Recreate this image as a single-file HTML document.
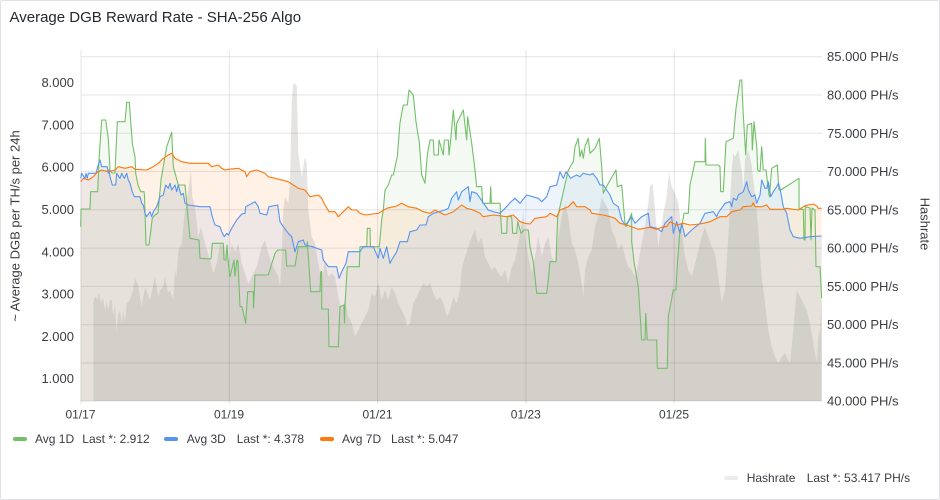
<!DOCTYPE html>
<html><head><meta charset="utf-8"><style>
html,body{margin:0;padding:0;background:#fff;}
body{width:940px;height:500px;overflow:hidden;font-family:"Liberation Sans",Arial,sans-serif;}
.panel{position:absolute;left:0;top:0;width:938px;height:498px;border:1px solid #e2e2e4;border-radius:2px;background:#fff;}
svg{position:absolute;left:0;top:0;}
</style></head><body>
<div class="panel"></div>
<svg width="940" height="500" viewBox="0 0 940 500" xmlns="http://www.w3.org/2000/svg" font-family="Liberation Sans, Arial, sans-serif">
<text x="9.5" y="22" font-size="15" fill="#24292e">Average DGB Reward Rate - SHA-256 Algo</text>

<!-- fills -->
<polygon fill="#73BF69" fill-opacity="0.08" points="80.7,401 80.7,226.7 81,209 90,209 90.7,191.7 97.7,191.7 99,160 101.7,120 105.7,120 108.3,138.3 110,170 112,173 115,173 117.3,121.7 125,121.7 126.7,102.3 129.3,102.3 132.3,143.3 135,156.7 135.7,173.3 138,185 140.7,191.7 144,191.7 144.5,196 146,245 149,245 152.3,218.3 155,215 158,213 161,180 166.7,146.7 171.7,132.3 173.3,166.7 178.3,185 185,185 190,238.3 199,240 200,258.3 211,259 212.3,243.3 223.3,243.3 224,260 226,260 227,245 228,260 230,276.7 234,260 235,276 237,260 238,262 240,306.7 242,306.7 245.7,323.3 247.7,291.7 253.3,291.7 253.5,308 255,275 268.3,275 275,253.3 277.7,250 285.7,250 286.7,266 295,266 298.3,246.7 306.7,246.7 307.3,241.7 310.7,291.7 320,291.7 320.7,271.7 321.7,271.7 321.7,309 328.3,309 329,346.7 338.3,346.7 340,306.7 344,305 344.5,323 345,305 347.3,266.7 359.3,266.7 360,246.7 366.7,246.7 367.3,228.3 370,228.3 370.5,246.7 379.3,246.7 381.7,220 383.3,210 385,190 388.3,185 391.7,175 393.3,175 397.3,156.7 400,122.7 403.3,105 407.3,105 409,90 413.3,95 416,121.7 418.3,136.7 419.3,141.7 421.7,175 425,183.3 427.3,155 430,140 433.3,140 434,155 438.3,155 439,140 443.3,155 444.3,140 448.3,140 449,155 450.7,140 453.3,110 456,140 456.7,123.3 463.3,110 466.7,140 467.7,116.7 471.7,143.3 475,170 476.7,186.7 481.7,186.7 482.7,203.3 490,203.3 490.7,186.7 491.3,203.3 500,203.3 501.7,233.3 506.7,233.3 507.3,216.7 511.7,216.7 512.7,233.3 516.7,233.3 517.7,221.7 521,233.3 524,230 528.3,230 530,246.7 533.3,261.7 536.7,293.3 546.7,293.3 548.3,280 550,261.7 556,261.7 557.7,216.7 566,180 568.3,170 573.3,161.7 575,146.7 578.3,138.3 580,156.7 581.7,150 583.3,158.3 585,146.7 588.3,138.3 590,153.3 595,148.3 599.3,138.3 601.7,166.7 603.3,193.3 608.3,183.3 616,170 617.3,186.7 621.7,185 622.7,196.7 625,223.3 626,226.7 631.7,213.3 631.7,241.7 634,261.7 638.3,286.7 641.7,340 645,340 645.7,313.3 647.3,340 656.7,340 657.3,368.3 667.3,368.3 668.3,316.7 673.3,290 676,290 677.3,265 680,230 681.7,226.7 684,213.3 688.3,213.3 690,185 695,161.7 705,161.7 705.3,138.3 706,165 718.3,165 720,166.7 720.7,191.7 723.3,191.7 726,141.7 733.3,138.3 736,108.3 740,80 741.7,80 743.3,115 745.7,155 747.3,125 751.7,123.3 752.3,150 754,121.7 756.7,146.7 757.7,170 760,171.7 761.7,146.7 763.3,170 766,170 769.3,196.7 771.7,168.3 777.3,165 779,190 780.7,190 799,178.3 799,209.3 803.3,209.3 804,240 805,240 805.3,206.7 810,208 811,240 812,208 815,210 816,266.7 820,266.7 821.7,298.3 821.7,401"/>
<polygon fill="#5794F2" fill-opacity="0.1" points="80.7,401 80.7,178.3 81.7,173.3 85,178.3 86,173.3 87.3,178.3 88.3,173.3 96,173.3 97.7,166.7 100,160 101.7,166.7 107.3,166.7 108.3,173.3 109,170 110,176.7 112.3,185 115.7,185 116.7,173.3 120,178.3 121.7,173.3 124.3,178.3 126.7,173.3 128.3,180 130,183.3 132.3,191.7 134.3,196.7 140,196.7 141.7,203.3 143.3,205 145,213.3 146.7,216.7 150,211.7 151.7,216.7 153.3,211.7 156.7,206.7 160,196.7 163.3,195 165.7,185 168.3,188.3 170,183.3 171.7,190 175,185 176.7,191.7 178.3,185 181,195 183.3,193.3 185,203.3 188.3,205 200,206.7 210,206.7 212.3,216.7 215,225 220,226.7 221.7,231.7 224.3,236.7 226.7,233.3 228.3,235 231.7,228.3 236.7,220 241.7,214 245,213.3 245.7,206.7 255,201.7 258.3,206.7 260,213.3 266.7,215 269,206.7 277.7,205 280,221.7 283.3,226.7 288.3,233.3 291.7,236.7 295,251.7 298.3,241.7 303.3,240 305,245 312.3,246.7 321.7,250 323.3,260 328.3,266.7 336.7,266.7 339,278.3 341.7,271.7 346,263.3 348.3,251.7 360,251.7 363.3,246.7 373.3,246.7 378.3,258.3 380,248.3 383.3,258.3 386.7,246.7 390,263.3 391.7,260 396.7,251.7 400,241.7 407.3,241.7 410,231.7 416.7,230 420,225 426,225 428.3,216.7 433.3,213.3 445,210 448.3,208.3 451.7,198.3 456.7,191.7 458.3,200 461.7,191.7 468.3,186.7 470,201.7 471.7,191.7 476.7,193.3 488.3,210 493.3,211.7 500,213.3 506.7,206.7 510,202.7 515,198.3 520,203.3 526.7,195 538.3,198.3 541.7,201.7 546.7,196.7 550,186.7 556.7,185 560,171.7 563.3,178.3 566,171.7 570.7,178.3 573.3,176.7 576.7,175 580,176.7 583.3,173.3 590,175 592.7,173.3 596.7,178.3 600,185 603.3,185 606.7,190 610,195 613.3,203.3 618.3,206.7 621.7,220 625,225 628.3,221.7 631.7,216.7 635,223.3 641.7,216.7 648.3,213.3 650,226.7 656.7,228.3 661.7,231.7 665,223.3 668.3,220 671.7,216.7 673.3,233.3 676.7,221.7 680,233.3 681.7,223.3 685,236.7 691.7,230 700,223.3 705,213.3 713.3,211.7 716.7,216.7 718.3,212.7 725,203.3 730,201.7 731.7,206.7 733.3,198.3 736.7,200 738.3,195 743.3,191.7 746.7,181.7 748.3,190 750,193.3 751.7,196.7 755,195 756.7,203.3 760,195 761.7,180 765,188.3 766.7,188.3 768.3,181.7 770.7,196.7 773.3,191.7 776.7,186.7 778.3,183.3 780,188.3 783.3,206.7 786.7,213.3 790,230 793.3,236.7 800,238.3 810,236.7 821.7,236 821.7,401"/>
<polygon fill="#FF780A" fill-opacity="0.1" points="80.7,401 80.7,181.7 83.3,178.3 88.3,180 93.3,176.7 97.7,171.7 101.7,170 108.3,171.7 115,170 118.3,166.7 125,168.3 131.7,166.7 135,169.3 146.7,170 153.3,166.7 158.3,163.3 163.3,158.3 168.3,155 171.7,153.3 175,158.3 181.7,161.7 190,163.3 208.3,163.3 211.7,166.7 218.3,165 221.7,168.3 225,170 228.3,169.3 238.3,168.3 245,171.7 246.7,176.7 250,171.7 256.7,170 265,173.3 268.3,176.7 275,178.3 288.3,181.7 293.3,185 298.3,188.3 305,190 310,196.7 318.3,195 321.7,198.3 325,205 329,211.7 335,211.7 338.3,216.7 343.3,211.7 348.3,206.7 351.7,210 356.7,210 360,213.3 365,215 378.3,213.3 386.7,208.3 396.7,206 401.7,203.3 408.3,206.7 416.7,208.3 423.3,211.7 430,213.3 435,210 445,215 453.3,211.7 461.7,205 466.7,208.3 473.3,210 480,213.3 483.3,216.7 493.3,215 506.7,216.7 513.3,215 516.7,218.3 520,221.7 525,223.3 530,224 535,218.3 546.7,216.7 550,213.3 556.7,216.7 560,210 568.3,206.7 573.3,201.7 576.7,206.7 585,206.7 590,210 591.7,213.3 603.3,215 610,216.7 615,218.3 620,223.3 626.7,225 638.3,229.3 650,227.3 656.7,229.3 663.3,226.7 666.7,226.7 670,221.7 676.7,225 683.3,223.3 690,225 700,224 710,221.7 713.3,220 720,216.7 726.7,216.7 731.7,211.7 740,210 743.3,206.7 751.7,206 753.3,202.7 755,206.7 761.7,206.7 766.7,205 770,209.3 783.3,209.3 786.7,208.3 798.3,210 805,205.7 813.3,204 816.7,206 818.3,208.3 821.7,208.3 821.7,401"/>
<!-- hashrate -->
<polygon fill="#a9a6a3" fill-opacity="0.3" points="93.3,401 93.3,303.3 95,296 97,300 99,292 101,303 103,298 105,310 107,302 108.3,310 110,300 111.7,300 113,315 115,305 116.7,333.3 118,315 120,310 121.7,323 123.3,310 125,323.3 126.7,303.3 130,300 133,290 135,278.3 138,285 141.7,306.7 145,286.7 148,295 150,300 155,276.7 158.3,296.7 160,290 163.3,286.7 165,276.7 168,293 170,290 173.3,300 175,270 176.7,276.7 178.3,250 181.7,243.3 185,210 188.3,190 191,170 192.3,196.7 195,206.7 198.3,236.7 201,226.7 205,243.3 210,260 213.3,273.3 216.7,263.3 220,243.3 225,250 228.3,263.3 231.7,243.3 235,251.7 238.3,243.3 241.7,263.3 245,273.3 248.3,283.3 251.7,276.7 256.7,266.7 261.7,246.7 265,240 268.3,253.3 271.7,263.3 275,270 278.3,276.7 280,286.7 281.7,256.7 283.3,210 285,196.7 288.3,203.3 290,183.3 291.7,103.3 293.3,83.3 296.7,85 298.3,153.3 301.7,176.7 305,156.7 306.7,163.3 308.3,210 311.7,236.7 315,243.3 318.3,263.3 321.7,283.3 325,260 328.3,276.7 331.7,273.3 335,276.7 338.3,296.7 341.7,310 345,300 348.3,316.7 351.7,323.3 355,336.7 358.3,330 361.7,323.3 365,316.7 368.3,310 371.7,293.3 375,296.7 378.3,283.3 381.7,300 385,290 388.3,300 391.7,286.7 395,293.3 398.3,303.3 401.7,310 405,316.7 407.3,326.7 410,323.3 413.3,303.3 416.7,296.7 420,290 423.3,283.3 426.7,286.7 430,283.3 433.3,293.3 436.7,300 440,296.7 443.3,303.3 446.7,316.7 450,310 453.3,296.7 456.7,303.3 460,290 461.7,270 465,256.7 468.3,246.7 471.7,236.7 475,230 478.3,243.3 481.7,236.7 485,256.7 488.3,263.3 491.7,270 495,266.7 498.3,273.3 501.7,276.7 505,270 508.3,283.3 511.7,266.7 515,260 518.3,243.3 521.7,223.3 523.3,210 525,236.7 528.3,256.7 531.7,273.3 535,256.7 538.3,236.7 541.7,256.7 545,243.3 548.3,236.7 551.7,256.7 555,263.3 558.3,236.7 561.7,216.7 565,203.3 568.3,216.7 571.7,243.3 575,250 578.3,263.3 581.7,283.3 583.3,296.7 585,270 588.3,256.7 591.7,250 595,226.7 598.3,216.7 601.7,196.7 605,203.3 608.3,210 611.7,230 615,236.7 618.3,250 621.7,243.3 625,256.7 628.3,266.7 631.7,270 635,276.7 638.3,263.3 641.7,243.3 645,226.7 648.3,203.3 650,186.7 652.7,183.3 655,210 658.3,246.7 660,236.7 663.3,213.3 666.7,196.7 669,173.3 671.7,186.7 675,193.3 678.3,203.3 681.7,230 685,256.7 688.3,270 691.7,276.7 695,263.3 698.3,250 701.7,236.7 705,226.7 708.3,236.7 711.7,246.7 715,253.3 718.3,276.7 721.7,303.3 725,290 728.3,236.7 731.7,170 733.3,153 735,156.7 738.3,150 741.7,170 743.3,190 745,160 748.3,150 751.7,165 755,195 758.3,230 761.7,276.7 765,303.3 768.3,330 771.7,346.7 775,356.7 778.3,363.3 781.7,356.7 785,353.3 790,363.3 793.3,330 796.7,290 800,296.7 803.3,303.3 806.7,310 810,323.3 813.3,343.3 816.7,363.3 818.3,336.7 820,330 821.7,298.3 821.7,401"/>

<!-- grid -->
<g stroke="#000" stroke-opacity="0.1" stroke-width="1">
<line x1="81" y1="56.7" x2="822" y2="56.7"/>
<line x1="81" y1="95" x2="822" y2="95"/>
<line x1="81" y1="133.3" x2="822" y2="133.3"/>
<line x1="81" y1="171.5" x2="822" y2="171.5"/>
<line x1="81" y1="209.8" x2="822" y2="209.8"/>
<line x1="81" y1="248.1" x2="822" y2="248.1"/>
<line x1="81" y1="286.4" x2="822" y2="286.4"/>
<line x1="81" y1="324.7" x2="822" y2="324.7"/>
<line x1="81" y1="363" x2="822" y2="363"/>
<line x1="81" y1="401" x2="822" y2="401"/>
<line x1="81" y1="50" x2="81" y2="404"/>
<line x1="229.3" y1="50" x2="229.3" y2="404"/>
<line x1="377.6" y1="50" x2="377.6" y2="404"/>
<line x1="525.9" y1="50" x2="525.9" y2="404"/>
<line x1="674.2" y1="50" x2="674.2" y2="404"/>
</g>

<!-- lines -->
<g fill="none" stroke-width="1.1" stroke-linejoin="round">
<polyline stroke="#73BF69" points="80.7,226.7 81,209 90,209 90.7,191.7 97.7,191.7 99,160 101.7,120 105.7,120 108.3,138.3 110,170 112,173 115,173 117.3,121.7 125,121.7 126.7,102.3 129.3,102.3 132.3,143.3 135,156.7 135.7,173.3 138,185 140.7,191.7 144,191.7 144.5,196 146,245 149,245 152.3,218.3 155,215 158,213 161,180 166.7,146.7 171.7,132.3 173.3,166.7 178.3,185 185,185 190,238.3 199,240 200,258.3 211,259 212.3,243.3 223.3,243.3 224,260 226,260 227,245 228,260 230,276.7 234,260 235,276 237,260 238,262 240,306.7 242,306.7 245.7,323.3 247.7,291.7 253.3,291.7 253.5,308 255,275 268.3,275 275,253.3 277.7,250 285.7,250 286.7,266 295,266 298.3,246.7 306.7,246.7 307.3,241.7 310.7,291.7 320,291.7 320.7,271.7 321.7,271.7 321.7,309 328.3,309 329,346.7 338.3,346.7 340,306.7 344,305 344.5,323 345,305 347.3,266.7 359.3,266.7 360,246.7 366.7,246.7 367.3,228.3 370,228.3 370.5,246.7 379.3,246.7 381.7,220 383.3,210 385,190 388.3,185 391.7,175 393.3,175 397.3,156.7 400,122.7 403.3,105 407.3,105 409,90 413.3,95 416,121.7 418.3,136.7 419.3,141.7 421.7,175 425,183.3 427.3,155 430,140 433.3,140 434,155 438.3,155 439,140 443.3,155 444.3,140 448.3,140 449,155 450.7,140 453.3,110 456,140 456.7,123.3 463.3,110 466.7,140 467.7,116.7 471.7,143.3 475,170 476.7,186.7 481.7,186.7 482.7,203.3 490,203.3 490.7,186.7 491.3,203.3 500,203.3 501.7,233.3 506.7,233.3 507.3,216.7 511.7,216.7 512.7,233.3 516.7,233.3 517.7,221.7 521,233.3 524,230 528.3,230 530,246.7 533.3,261.7 536.7,293.3 546.7,293.3 548.3,280 550,261.7 556,261.7 557.7,216.7 566,180 568.3,170 573.3,161.7 575,146.7 578.3,138.3 580,156.7 581.7,150 583.3,158.3 585,146.7 588.3,138.3 590,153.3 595,148.3 599.3,138.3 601.7,166.7 603.3,193.3 608.3,183.3 616,170 617.3,186.7 621.7,185 622.7,196.7 625,223.3 626,226.7 631.7,213.3 631.7,241.7 634,261.7 638.3,286.7 641.7,340 645,340 645.7,313.3 647.3,340 656.7,340 657.3,368.3 667.3,368.3 668.3,316.7 673.3,290 676,290 677.3,265 680,230 681.7,226.7 684,213.3 688.3,213.3 690,185 695,161.7 705,161.7 705.3,138.3 706,165 718.3,165 720,166.7 720.7,191.7 723.3,191.7 726,141.7 733.3,138.3 736,108.3 740,80 741.7,80 743.3,115 745.7,155 747.3,125 751.7,123.3 752.3,150 754,121.7 756.7,146.7 757.7,170 760,171.7 761.7,146.7 763.3,170 766,170 769.3,196.7 771.7,168.3 777.3,165 779,190 780.7,190 799,178.3 799,209.3 803.3,209.3 804,240 805,240 805.3,206.7 810,208 811,240 812,208 815,210 816,266.7 820,266.7 821.7,298.3"/>
<polyline stroke="#5794F2" points="80.7,178.3 81.7,173.3 85,178.3 86,173.3 87.3,178.3 88.3,173.3 96,173.3 97.7,166.7 100,160 101.7,166.7 107.3,166.7 108.3,173.3 109,170 110,176.7 112.3,185 115.7,185 116.7,173.3 120,178.3 121.7,173.3 124.3,178.3 126.7,173.3 128.3,180 130,183.3 132.3,191.7 134.3,196.7 140,196.7 141.7,203.3 143.3,205 145,213.3 146.7,216.7 150,211.7 151.7,216.7 153.3,211.7 156.7,206.7 160,196.7 163.3,195 165.7,185 168.3,188.3 170,183.3 171.7,190 175,185 176.7,191.7 178.3,185 181,195 183.3,193.3 185,203.3 188.3,205 200,206.7 210,206.7 212.3,216.7 215,225 220,226.7 221.7,231.7 224.3,236.7 226.7,233.3 228.3,235 231.7,228.3 236.7,220 241.7,214 245,213.3 245.7,206.7 255,201.7 258.3,206.7 260,213.3 266.7,215 269,206.7 277.7,205 280,221.7 283.3,226.7 288.3,233.3 291.7,236.7 295,251.7 298.3,241.7 303.3,240 305,245 312.3,246.7 321.7,250 323.3,260 328.3,266.7 336.7,266.7 339,278.3 341.7,271.7 346,263.3 348.3,251.7 360,251.7 363.3,246.7 373.3,246.7 378.3,258.3 380,248.3 383.3,258.3 386.7,246.7 390,263.3 391.7,260 396.7,251.7 400,241.7 407.3,241.7 410,231.7 416.7,230 420,225 426,225 428.3,216.7 433.3,213.3 445,210 448.3,208.3 451.7,198.3 456.7,191.7 458.3,200 461.7,191.7 468.3,186.7 470,201.7 471.7,191.7 476.7,193.3 488.3,210 493.3,211.7 500,213.3 506.7,206.7 510,202.7 515,198.3 520,203.3 526.7,195 538.3,198.3 541.7,201.7 546.7,196.7 550,186.7 556.7,185 560,171.7 563.3,178.3 566,171.7 570.7,178.3 573.3,176.7 576.7,175 580,176.7 583.3,173.3 590,175 592.7,173.3 596.7,178.3 600,185 603.3,185 606.7,190 610,195 613.3,203.3 618.3,206.7 621.7,220 625,225 628.3,221.7 631.7,216.7 635,223.3 641.7,216.7 648.3,213.3 650,226.7 656.7,228.3 661.7,231.7 665,223.3 668.3,220 671.7,216.7 673.3,233.3 676.7,221.7 680,233.3 681.7,223.3 685,236.7 691.7,230 700,223.3 705,213.3 713.3,211.7 716.7,216.7 718.3,212.7 725,203.3 730,201.7 731.7,206.7 733.3,198.3 736.7,200 738.3,195 743.3,191.7 746.7,181.7 748.3,190 750,193.3 751.7,196.7 755,195 756.7,203.3 760,195 761.7,180 765,188.3 766.7,188.3 768.3,181.7 770.7,196.7 773.3,191.7 776.7,186.7 778.3,183.3 780,188.3 783.3,206.7 786.7,213.3 790,230 793.3,236.7 800,238.3 810,236.7 821.7,236"/>
<polyline stroke="#FF780A" points="80.7,181.7 83.3,178.3 88.3,180 93.3,176.7 97.7,171.7 101.7,170 108.3,171.7 115,170 118.3,166.7 125,168.3 131.7,166.7 135,169.3 146.7,170 153.3,166.7 158.3,163.3 163.3,158.3 168.3,155 171.7,153.3 175,158.3 181.7,161.7 190,163.3 208.3,163.3 211.7,166.7 218.3,165 221.7,168.3 225,170 228.3,169.3 238.3,168.3 245,171.7 246.7,176.7 250,171.7 256.7,170 265,173.3 268.3,176.7 275,178.3 288.3,181.7 293.3,185 298.3,188.3 305,190 310,196.7 318.3,195 321.7,198.3 325,205 329,211.7 335,211.7 338.3,216.7 343.3,211.7 348.3,206.7 351.7,210 356.7,210 360,213.3 365,215 378.3,213.3 386.7,208.3 396.7,206 401.7,203.3 408.3,206.7 416.7,208.3 423.3,211.7 430,213.3 435,210 445,215 453.3,211.7 461.7,205 466.7,208.3 473.3,210 480,213.3 483.3,216.7 493.3,215 506.7,216.7 513.3,215 516.7,218.3 520,221.7 525,223.3 530,224 535,218.3 546.7,216.7 550,213.3 556.7,216.7 560,210 568.3,206.7 573.3,201.7 576.7,206.7 585,206.7 590,210 591.7,213.3 603.3,215 610,216.7 615,218.3 620,223.3 626.7,225 638.3,229.3 650,227.3 656.7,229.3 663.3,226.7 666.7,226.7 670,221.7 676.7,225 683.3,223.3 690,225 700,224 710,221.7 713.3,220 720,216.7 726.7,216.7 731.7,211.7 740,210 743.3,206.7 751.7,206 753.3,202.7 755,206.7 761.7,206.7 766.7,205 770,209.3 783.3,209.3 786.7,208.3 798.3,210 805,205.7 813.3,204 816.7,206 818.3,208.3 821.7,208.3"/>
</g>

<!-- left axis -->
<g font-size="13" fill="#3a3d42" text-anchor="end">
<text x="74" y="87.2">8.000</text>
<text x="74" y="129.5">7.000</text>
<text x="74" y="171.7">6.000</text>
<text x="74" y="214">5.000</text>
<text x="74" y="256.3">4.000</text>
<text x="74" y="298.6">3.000</text>
<text x="74" y="340.9">2.000</text>
<text x="74" y="383.2">1.000</text>
</g>
<text transform="translate(19.5,226) rotate(-90)" font-size="13" fill="#3a3d42" text-anchor="middle">~ Average DGB per TH/s per 24h</text>

<!-- right axis -->
<g font-size="13" fill="#3a3d42">
<text x="827" y="61.2">85.000 PH/s</text>
<text x="827" y="99.5">80.000 PH/s</text>
<text x="827" y="137.8">75.000 PH/s</text>
<text x="827" y="176">70.000 PH/s</text>
<text x="827" y="214.3">65.000 PH/s</text>
<text x="827" y="252.6">60.000 PH/s</text>
<text x="827" y="290.9">55.000 PH/s</text>
<text x="827" y="329.2">50.000 PH/s</text>
<text x="827" y="367.5">45.000 PH/s</text>
<text x="827" y="405.5">40.000 PH/s</text>
</g>
<text transform="translate(920.5,224) rotate(90)" font-size="13" fill="#3a3d42" text-anchor="middle">Hashrate</text>

<!-- x axis -->
<g font-size="12" fill="#3a3d42" text-anchor="middle">
<text x="80.5" y="418.5">01/17</text>
<text x="229" y="418.5">01/19</text>
<text x="377.5" y="418.5">01/21</text>
<text x="525.8" y="418.5">01/23</text>
<text x="674" y="418.5">01/25</text>
</g>

<!-- legend -->
<g font-size="12" fill="#3a3d42">
<rect x="13" y="437" width="14" height="4" rx="2" fill="#73BF69"/>
<text x="35" y="443">Avg 1D</text>
<text x="82.3" y="443">Last *: 2.912</text>
<rect x="164" y="437" width="14" height="4" rx="2" fill="#5794F2"/>
<text x="186.7" y="443">Avg 3D</text>
<text x="236.7" y="443">Last *: 4.378</text>
<rect x="320" y="437" width="14" height="4" rx="2" fill="#FF780A"/>
<text x="342" y="443">Avg 7D</text>
<text x="391" y="443">Last *: 5.047</text>
<rect x="724" y="476" width="14" height="4" rx="2" fill="#ececec"/>
<text x="746.7" y="482">Hashrate</text>
<text x="806.7" y="482">Last *: 53.417 PH/s</text>
</g>
</svg>
</body></html>
